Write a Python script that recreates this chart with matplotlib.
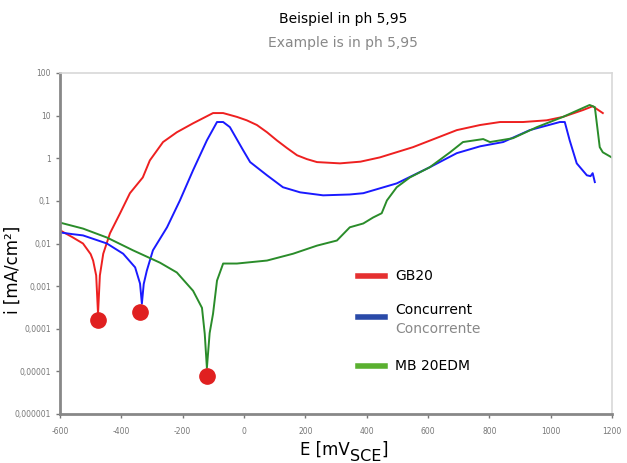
import matplotlib
matplotlib.use("Agg")
import matplotlib.pyplot as plt
from matplotlib.lines import Line2D

# values (E in mV, log10 of i in mA/cm2)
gb20_e = [-600, -560, -525, -500, -492, -482, -476, -470, -459, -437, -404, -372, -330, -307,
          -264, -219, -166, -101, -68, -23, 9, 42, 75, 107, 140, 173, 205, 238, 313, 380, 443,
          551, 694, 770, 835, 910, 987, 1040, 1105, 1137, 1170]
gb20_log = [-1.69, -1.85, -2.0, -2.25, -2.4, -2.75, -3.65, -2.75, -2.24, -1.76, -1.29, -0.82,
            -0.45, -0.05, 0.38, 0.61, 0.82, 1.06, 1.06, 0.97, 0.89, 0.78, 0.61, 0.42, 0.24,
            0.07, -0.02, -0.09, -0.12, -0.08, 0.02, 0.26, 0.66, 0.78, 0.85, 0.85, 0.89, 0.97,
            1.13, 1.22, 1.06]

conc_e = [-600, -600, -560, -525, -447, -394, -355, -339, -333, -327, -317, -297, -251, -209,
          -166, -121, -88, -68, -46, -3, 20, 75, 127, 183, 258, 345, 389, 498, 606, 694, 770,
          845, 932, 1030, 1046, 1062, 1085, 1118, 1130, 1137, 1144]
conc_log = [-1.25, -1.74, -1.78, -1.81, -2.0, -2.24, -2.56, -2.94, -3.41, -2.95, -2.64, -2.16,
            -1.62, -0.99, -0.28, 0.42, 0.85, 0.85, 0.73, 0.19, -0.09, -0.4, -0.68, -0.8, -0.87,
            -0.85, -0.82, -0.59, -0.21, 0.12, 0.28, 0.38, 0.66, 0.85, 0.85, 0.42, -0.12, -0.4,
            -0.42, -0.35, -0.56]

mb_e = [-600, -600, -525, -447, -362, -274, -219, -166, -137, -128, -121, -112, -101, -88,
        -68, -23, 75, 160, 238, 303, 345, 389, 421, 449, 466, 498, 541, 606, 672, 714, 780,
        802, 877, 955, 1040, 1127, 1144, 1160, 1170, 1199]
mb_log = [-1.22, -1.51, -1.65, -1.86, -2.16, -2.45, -2.68, -3.11, -3.51, -4.12, -4.92, -4.1,
          -3.65, -2.87, -2.47, -2.47, -2.4, -2.24, -2.05, -1.93, -1.62, -1.53, -1.39, -1.29,
          -0.99, -0.68, -0.45, -0.21, 0.14, 0.38, 0.45, 0.38, 0.47, 0.73, 0.97, 1.25, 1.2,
          0.26, 0.14, 0.02]

dot_e = [-476, -339, -121]
dot_log = [-3.79, -3.6, -5.1]

x_ticks = [-600, -400, -200, 0, 200, 400, 600, 800, 1000, 1200]
y_ticks = [-6, -5, -4, -3, -2, -1, 0, 1, 2]
y_labels = ["0,000001", "0,00001", "0,0001", "0,001", "0,01", "0,1", "1", "10", "100"]

fig = plt.figure(figsize=(6.27, 4.63), dpi=100)
ax = fig.add_axes([60 / 627, 1 - 414 / 463, 552 / 627, 341 / 463])

ax.plot(gb20_e, gb20_log, color="#ee2020", lw=1.4)
ax.plot(conc_e, conc_log, color="#1a1aff", lw=1.4)
ax.plot(mb_e, mb_log, color="#2a8c2a", lw=1.4)
ax.plot(dot_e, dot_log, "o", color="#e02020", ms=11, zorder=5, clip_on=False)

ax.set_xlim(-600, 1200)
ax.set_ylim(-6, 2)
ax.set_xticks(x_ticks)
ax.set_xticklabels([str(v) for v in x_ticks])
ax.set_yticks(y_ticks)
ax.set_yticklabels(y_labels)
ax.tick_params(labelsize=5.5, labelcolor="#777777", color="#777777", length=3, width=1)
ax.tick_params(axis="x", pad=6)

for s in ["left", "bottom"]:
    ax.spines[s].set_color("#888888")
    ax.spines[s].set_linewidth(2)
for s in ["top", "right"]:
    ax.spines[s].set_color("#d8d8d8")
    ax.spines[s].set_linewidth(1.2)

# legend drawn by hand
ax.add_line(Line2D([0.54, 0.589], [0.405, 0.405], transform=ax.transAxes, color="#e53030", lw=4))
ax.add_line(Line2D([0.54, 0.589], [0.284, 0.284], transform=ax.transAxes, color="#2a4aa8", lw=4))
ax.add_line(Line2D([0.54, 0.589], [0.141, 0.141], transform=ax.transAxes, color="#5ab030", lw=4))
ax.text(0.607, 0.405, "GB20", transform=ax.transAxes, fontsize=10, va="center", color="black")
ax.text(0.607, 0.305, "Concurrent", transform=ax.transAxes, fontsize=10, va="center", color="black")
ax.text(0.607, 0.249, "Concorrente", transform=ax.transAxes, fontsize=10, va="center", color="#888888")
ax.text(0.607, 0.141, "MB 20EDM", transform=ax.transAxes, fontsize=10, va="center", color="black")

fig.text(0.547, 0.959, "Beispiel in ph 5,95", ha="center", va="center", fontsize=10, color="black")
fig.text(0.547, 0.907, "Example is in ph 5,95", ha="center", va="center", fontsize=10, color="#888888")

# x label with a full-size, lowered subscript
t1 = fig.text(300 / 627, 1 - 455 / 463, "E [mV", ha="left", va="baseline", fontsize=12)
t2 = ax.annotate("SCE", xy=(1, 0), xycoords=t1, xytext=(0, -3.5), textcoords="offset points",
                 ha="left", va="bottom", fontsize=11.5, annotation_clip=False)
ax.annotate("]", xy=(1, 0), xycoords=t2, xytext=(0, 3.5), textcoords="offset points",
            ha="left", va="bottom", fontsize=12, annotation_clip=False)

fig.text(0.021, 0.417, "i [mA/cm²]", ha="center", va="center", rotation=90, fontsize=12)

fig.savefig("out.png", dpi=100)
